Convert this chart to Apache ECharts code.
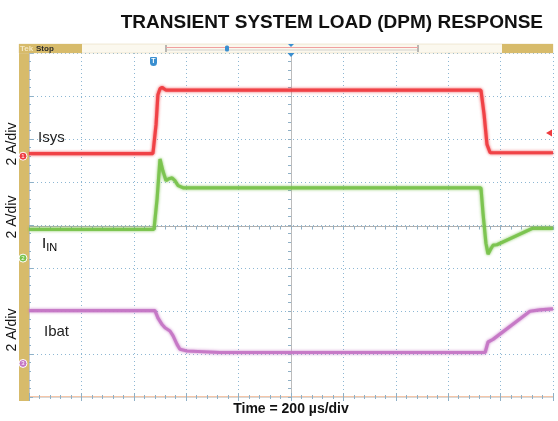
<!DOCTYPE html>
<html>
<head>
<meta charset="utf-8">
<script src="https://cdn.jsdelivr.net/npm/echarts@6/dist/echarts.min.js"></script>
<style>
html,body{margin:0;padding:0;background:#fff;}
#chart{width:558px;height:421px;}
</style>
</head>
<body>
<div id="chart"></div>
<script>
// ---- data (time in µs, current in A) ----
const isysT = [0, 473, 485, 492, 500, 508, 523, 546, 1725, 1737, 1748, 1760, 2000];
const isysA = [0.12, 0.12, 1.48, 2.86, 3.14, 3.20, 3.07, 3.07, 3.07, 1.94, 0.55, 0.16, 0.16];

const iinT = [0, 477, 489, 500, 511, 523, 534, 546, 557, 569, 588, 1725, 1733, 1744, 1752, 1760, 1771, 1786, 1920, 2000];
const iinA = [1.34, 1.34, 2.77, 4.61, 4.06, 3.60, 3.69, 3.73, 3.60, 3.37, 3.27, 3.27, 2.07, 0.69, 0.18, 0.37, 0.60, 0.62, 1.38, 1.38];

const ibatT = [0, 481, 492, 508, 519, 538, 550, 565, 576, 603, 729, 1741, 1752, 1771, 1912, 1950, 2000];
const ibatA = [2.46, 2.46, 2.12, 1.81, 1.66, 1.51, 1.28, 0.89, 0.66, 0.58, 0.51, 0.51, 1.00, 1.12, 2.43, 2.49, 2.54];

// channel settings
const channelNames = ['Isys', 'IIN', 'Ibat'];
const channelColors = ['#ef3b3f', '#78c24a', '#c474c4'];
const groundDiv = [5.60, 3.23, 0.78];   // ground-marker level in divisions
const ampsPerDiv = 2;
const timePerDiv = 200; // µs
const xDivs = 10, yDivs = 8;

function toSeries(ts, as, ch) {
  return ts.map((t, i) => [t, groundDiv[ch] + as[i] / ampsPerDiv]);
}
const seriesData = [toSeries(isysT, isysA, 0), toSeries(iinT, iinA, 1), toSeries(ibatT, ibatA, 2)];

const chart = echarts.init(document.getElementById('chart'), null, {renderer: 'canvas'});

const gridBlue = '#8db7d3';
const tickCol = '#8fb0c6';
const font = 'Liberation Sans, Arial, sans-serif';

const baseX = {
  type: 'value', min: 0, max: xDivs * timePerDiv, interval: timePerDiv,
  axisLabel: {show: false}, splitLine: {show: false},
  axisTick: {show: true, inside: true, length: 4, lineStyle: {color: tickCol}},
  minorTick: {show: true, splitNumber: 5, length: 2, lineStyle: {color: tickCol}},
};
const baseY = {
  type: 'value', min: 0, max: yDivs, interval: 1,
  axisLabel: {show: false}, splitLine: {show: false},
  axisTick: {show: true, inside: true, length: 4, lineStyle: {color: tickCol}},
  minorTick: {show: true, splitNumber: 5, length: 2, lineStyle: {color: tickCol}},
};

const option = {
  animation: false,
  backgroundColor: '#ffffff',
  title: {
    text: 'TRANSIENT SYSTEM LOAD (DPM) RESPONSE',
    right: 10, top: 8,
    textStyle: {fontFamily: font, fontSize: 19, fontWeight: 'bold', color: '#111'}
  },
  grid: {left: 29, right: 5, top: 53, bottom: 21},
  xAxis: [
    Object.assign({}, baseX, {
      position: 'bottom',
      axisLine: {show: true, lineStyle: {color: '#f2b48c', width: 1.5}},
      splitLine: {show: true, lineStyle: {color: gridBlue, type: [1, 3], width: 1}},
      name: 'Time = 200 µs/div', nameLocation: 'middle', nameGap: 5,
      nameTextStyle: {fontFamily: font, fontSize: 14, fontWeight: 'bold', color: '#111', verticalAlign: 'top'}
    }),
    Object.assign({}, baseX, {
      position: 'top',
      axisLine: {show: true, lineStyle: {color: '#d8d8d8'}}
    }),
    Object.assign({}, baseX, {
      position: 'bottom', offset: -173.5,
      axisLine: {show: true, lineStyle: {color: '#b0b0b0'}},
      axisTick: {show: true, inside: false, length: 3, lineStyle: {color: tickCol}},
      minorTick: {show: true, splitNumber: 5, length: 3, lineStyle: {color: tickCol}}
    })
  ],
  yAxis: [
    Object.assign({}, baseY, {
      position: 'left',
      axisLine: {show: true, lineStyle: {color: '#d8d8d8'}},
      splitLine: {show: true, lineStyle: {color: gridBlue, type: [1, 3], width: 1}}
    }),
    Object.assign({}, baseY, {
      position: 'right',
      axisLine: {show: true, lineStyle: {color: '#c8c8c8'}}
    }),
    Object.assign({}, baseY, {
      position: 'left', offset: -262,
      axisLine: {show: true, lineStyle: {color: '#bcbcbc'}},
      axisTick: {show: true, inside: false, length: 3, lineStyle: {color: tickCol}},
      minorTick: {show: true, splitNumber: 5, length: 3, lineStyle: {color: tickCol}}
    })
  ],
  series: seriesData.map((d, i) => ({
    name: channelNames[i],
    type: 'line',
    xAxisIndex: 0, yAxisIndex: 0,
    data: d,
    showSymbol: false,
    smooth: false,
    z: 5,
    lineStyle: {color: channelColors[i], width: 3.2, opacity: 0.9, shadowColor: channelColors[i], shadowBlur: 3},
    markPoint: {
      symbol: 'circle', symbolSize: 8, symbolOffset: [-6, 0],
      silent: true,
      itemStyle: {color: channelColors[i], borderColor: '#fff', borderWidth: 1},
      label: {show: true, formatter: String(i + 1), fontSize: 6, color: '#fff'},
      data: [{coord: [0, groundDiv[i]]}]
    }
  })),
  graphic: [
    // left gold strip
    {type: 'rect', shape: {x: 19, y: 44, width: 10, height: 357}, style: {fill: '#d7bb6b'}, z: 1},
    // top status bar
    {type: 'rect', shape: {x: 19, y: 44, width: 534, height: 9}, style: {fill: '#fbf8ee', stroke: '#e0d6b0', lineWidth: 0.5}, z: 10},
    {type: 'rect', shape: {x: 19, y: 44, width: 63, height: 9}, style: {fill: '#d7bb6b'}, z: 11},
    {type: 'rect', shape: {x: 502, y: 44, width: 51, height: 9}, style: {fill: '#d7bb6b'}, z: 11},
    {type: 'line', shape: {x1: 166, y1: 45, x2: 166, y2: 52}, style: {stroke: '#777', lineWidth: 1}, z: 11},
    {type: 'line', shape: {x1: 418, y1: 45, x2: 418, y2: 52}, style: {stroke: '#777', lineWidth: 1}, z: 11},
    {type: 'line', shape: {x1: 166, y1: 47.5, x2: 418, y2: 47.5}, style: {stroke: '#f0a0a0', lineWidth: 1}, z: 11},
    {type: 'line', shape: {x1: 166, y1: 50, x2: 418, y2: 50}, style: {stroke: '#bbb', lineWidth: 0.6}, z: 11},
    {type: 'text', x: 20, y: 48.5, style: {text: 'Tek', font: 'bold 8px ' + font, fill: '#f4e8c4', verticalAlign: 'middle'}, z: 12},
    {type: 'text', x: 36, y: 48.5, style: {text: 'Stop', font: 'bold 8px ' + font, fill: '#2a2a2a', verticalAlign: 'middle'}, z: 12},
    // small blue markers
    {type: 'rect', shape: {x: 225, y: 45.5, width: 4, height: 6, r: 1.5}, style: {fill: '#3a8fd0'}, z: 12},
    {type: 'polygon', shape: {points: [[288, 44], [294, 44], [291, 47]]}, style: {fill: '#3a8fd0'}, z: 12},
    {type: 'polygon', shape: {points: [[287.5, 53], [294.5, 53], [291, 57]]}, style: {fill: '#3a8fd0'}, z: 12},
    {type: 'rect', shape: {x: 150, y: 57, width: 7, height: 9, r: [1, 1, 3.5, 3.5]}, style: {fill: '#3a8fd0'}, z: 12},
    {type: 'text', x: 153.5, y: 61.5, style: {text: 'T', font: 'bold 7px ' + font, fill: '#fff', align: 'center', verticalAlign: 'middle'}, z: 13},
    // right trigger level arrow
    {type: 'polygon', shape: {points: [[546, 133], [552, 129.5], [552, 136.5]]}, style: {fill: '#ef3b3f'}, z: 12},
    // vertical scale labels
    {type: 'text', x: 12, y: 144, rotation: Math.PI / 2, style: {text: '2 A/div', font: '14px ' + font, fill: '#111', align: 'center', verticalAlign: 'middle'}, z: 12},
    {type: 'text', x: 12, y: 217, rotation: Math.PI / 2, style: {text: '2 A/div', font: '14px ' + font, fill: '#111', align: 'center', verticalAlign: 'middle'}, z: 12},
    {type: 'text', x: 12, y: 330, rotation: Math.PI / 2, style: {text: '2 A/div', font: '14px ' + font, fill: '#111', align: 'center', verticalAlign: 'middle'}, z: 12},
    // trace names
    {type: 'text', x: 38, y: 138, style: {text: 'Isys', font: '15px ' + font, fill: '#222', verticalAlign: 'middle'}, z: 12},
    {type: 'text', x: 42, y: 244, style: {
      text: '{a|I}{b|IN}',
      rich: {a: {fontFamily: font, fontSize: 15, color: '#222'}, b: {fontFamily: font, fontSize: 11, color: '#222', padding: [8, 0, 0, 0]}},
      verticalAlign: 'middle'}, z: 12},
    {type: 'text', x: 44, y: 332, style: {text: 'Ibat', font: '15px ' + font, fill: '#222', verticalAlign: 'middle'}, z: 12}
  ]
};
chart.setOption(option);
</script>
</body>
</html>
